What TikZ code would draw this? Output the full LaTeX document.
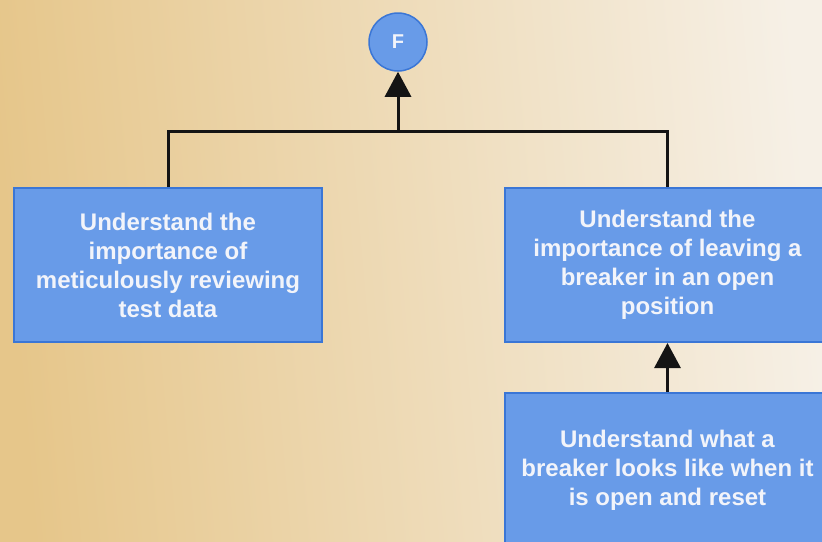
\documentclass[tikz,border=0pt]{standalone}
\usepackage{fontspec}
\setmainfont{Liberation Sans}
\usetikzlibrary{arrows.meta}
\definecolor{bgL}{RGB}{230,198,138}
\definecolor{bgR}{RGB}{246,240,230}
\definecolor{boxfill}{RGB}{104,155,232}
\definecolor{boxline}{RGB}{58,118,214}
\definecolor{txt}{RGB}{242,244,250}
\definecolor{wire}{RGB}{20,20,20}
\tikzset{
  goalbox/.style={draw=boxline, line width=2pt, fill=boxfill, text=txt,
    font=\bfseries\fontsize{24}{29}\selectfont, align=center,
    minimum height=154pt, inner sep=0pt},
  goalcircle/.style={circle, draw=boxline, line width=1.5pt, fill=boxfill,
    text=txt, font=\bfseries\fontsize{20}{24}\selectfont, minimum size=58pt, inner sep=0pt},
  wire/.style={draw=wire, line width=3pt},
  uparrow/.style={wire, -{Triangle[width=26pt,length=25pt]}}
}
\begin{document}
\begin{tikzpicture}[x=1pt,y=-1pt]
  \useasboundingbox (0,0) rectangle (822,541);
  \clip (0,0) rectangle (822,541);
  \shade[left color=bgL, right color=bgR, shading angle=95] (0,0) rectangle (822,541);

  \node[goalcircle] (F) at (398,42) {F};

  \node[goalbox, minimum width=308pt] (left) at (168,265)
    {Understand the\\importance of\\meticulously reviewing\\test data};
  \node[goalbox, minimum width=325pt] (right) at (667.5,265)
    {Understand the\\importance of leaving a\\breaker in an open\\position};
  \node[goalbox, minimum width=325pt] (bottom) at (667.5,470)
    {Understand what a\\breaker looks like when it\\is open and reset};

  \coordinate (join) at (398,131);
  \draw[wire] (left.north) |- (join) -| (right.north);
  \draw[uparrow] (join) -- (F.south);
  \draw[uparrow] (bottom.north) -- (right.south);
\end{tikzpicture}
\end{document}
